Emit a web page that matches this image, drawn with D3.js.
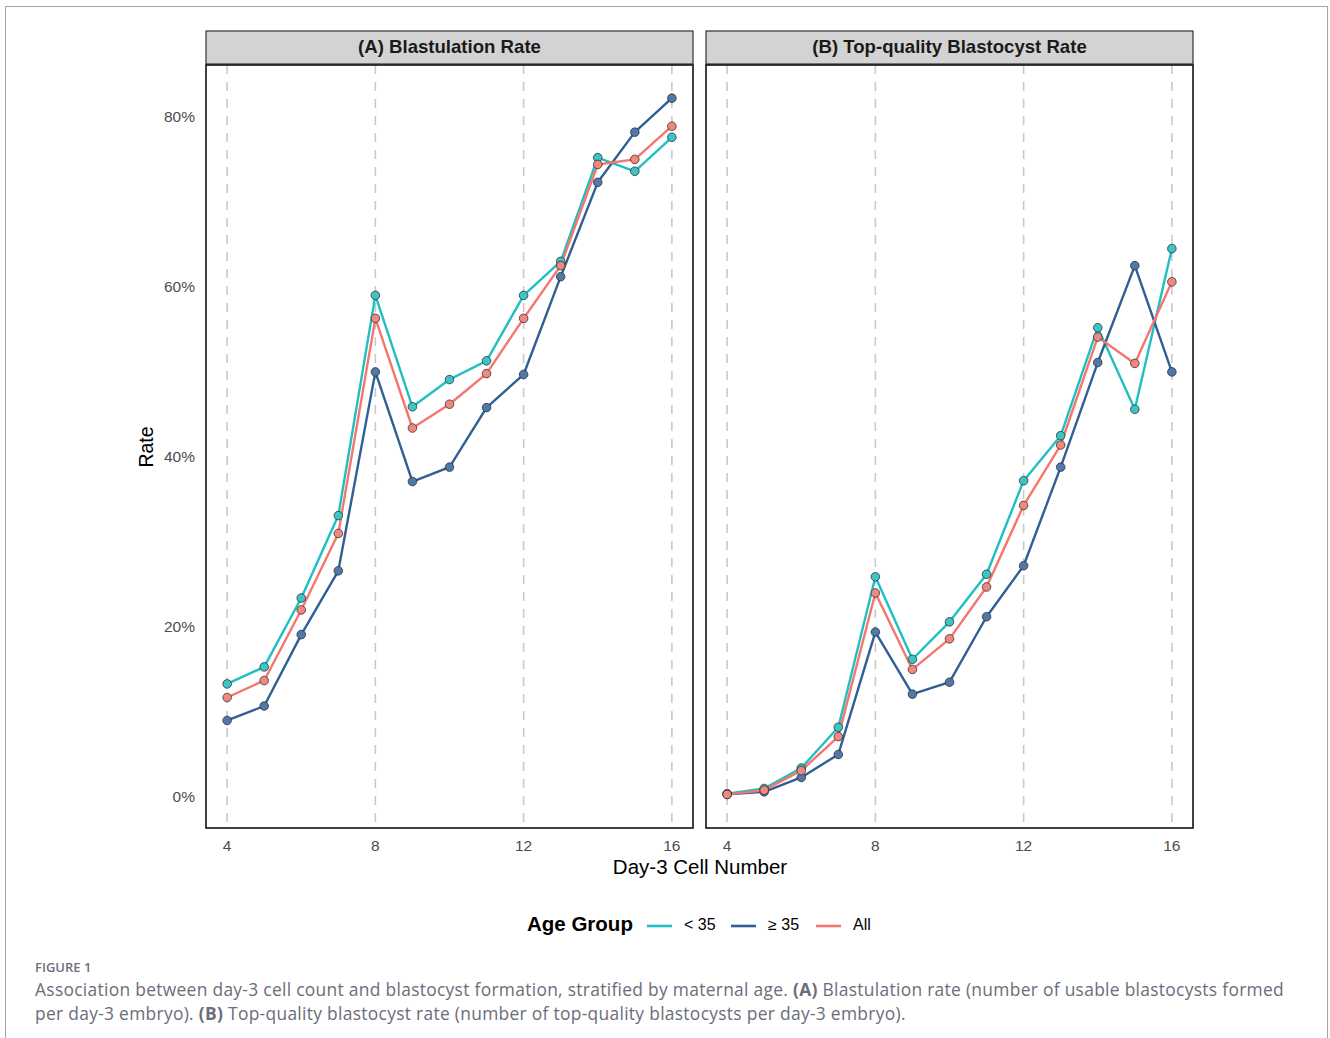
<!DOCTYPE html>
<html>
<head>
<meta charset="utf-8">
<script src="https://cdn.jsdelivr.net/npm/d3@7"></script>
<style>
  body { margin: 0; background: #fff; }
  svg { display: block; }
</style>
</head>
<body>
<script>
// Data (rates in %)

const cellNumbers = [4, 5, 6, 7, 8, 9, 10, 11, 12, 13, 14, 15, 16];
const xTicks = [4, 8, 12, 16];
const yTicks = [0, 20, 40, 60, 80];

const groupNames = ["< 35", "\u2265 35", "All"];
const panelTitles = ["(A) Blastulation Rate", "(B) Top-quality Blastocyst Rate"];

const blastUnder35 = [13.4, 15.4, 23.5, 33.2, 59.1, 46.0, 49.2, 51.4, 59.1, 63.1, 75.3, 73.7, 77.7];
const blastOver35 = [9.1, 10.8, 19.2, 26.7, 50.1, 37.2, 38.9, 45.9, 49.8, 61.3, 72.4, 78.3, 82.3];
const blastAll = [11.8, 13.8, 22.1, 31.1, 56.4, 43.5, 46.3, 49.9, 56.4, 62.6, 74.5, 75.1, 79.0];

const topUnder35 = [0.5, 1.1, 3.5, 8.3, 26.0, 16.3, 20.7, 26.3, 37.3, 42.6, 55.3, 45.7, 64.6];
const topOver35 = [0.4, 0.7, 2.4, 5.1, 19.5, 12.2, 13.6, 21.3, 27.3, 38.9, 51.2, 62.6, 50.1];
const topAll = [0.4, 0.9, 3.2, 7.2, 24.1, 15.1, 18.7, 24.8, 34.4, 41.5, 54.2, 51.1, 60.7];

const panelSeries = [
  [blastUnder35, blastOver35, blastAll],
  [topUnder35, topOver35, topAll],
];

// Measurements

const width = 1330;
const height = 1038;
const panelXs = [206, 706];
const panelWidth = 487;
const stripY = 31;
const stripHeight = 33;
const panelY = 65;
const panelBottom = 828;

const lineColors = ["#1fbfc3", "#2f5f93", "#f4766d"];
const pointFills = ["#3cc4c6", "#5079ab", "#f08880"];
const chartFont = "'Liberation Sans', Arial, sans-serif";
const captionFont = "'Open Sans', 'Noto Sans', sans-serif";

const svg = d3
  .select("body")
  .append("svg")
  .attr("width", width)
  .attr("height", height)
  .attr("viewBox", `0 0 ${width} ${height}`);

// Frame

svg
  .append("rect")
  .attr("x", 5.5)
  .attr("y", 6.5)
  .attr("width", 1322)
  .attr("height", 1040)
  .attr("fill", "none")
  .attr("stroke", "#a3a3ab")
  .attr("stroke-width", 1);

// Scales

const yScale = d3.scaleLinear().domain([-3.55, 86.2]).range([panelBottom, panelY]);

panelTitles.forEach((title, p) => {
  const x0 = panelXs[p];
  const xScale = d3
    .scaleLinear()
    .domain([3.43, 16.57])
    .range([x0, x0 + panelWidth]);

  const g = svg.append("g");

  // Strip

  g.append("rect")
    .attr("x", x0)
    .attr("y", stripY)
    .attr("width", panelWidth)
    .attr("height", stripHeight)
    .attr("fill", "#d3d3d3")
    .attr("stroke", "#333")
    .attr("stroke-width", 1.2);

  g.append("text")
    .attr("x", x0 + panelWidth / 2)
    .attr("y", stripY + stripHeight / 2 + 1)
    .attr("text-anchor", "middle")
    .attr("dominant-baseline", "middle")
    .attr("font-family", chartFont)
    .attr("font-weight", "bold")
    .attr("font-size", 18.6)
    .attr("fill", "#1a1a1a")
    .text(title);

  // Grid

  g.selectAll(".grid")
    .data(xTicks)
    .enter()
    .append("line")
    .attr("x1", (d) => xScale(d))
    .attr("x2", (d) => xScale(d))
    .attr("y1", panelY)
    .attr("y2", panelBottom)
    .attr("stroke", "#c9c9c9")
    .attr("stroke-width", 1.6)
    .attr("stroke-dasharray", "9,8");

  // Lines & points

  const line = d3
    .line()
    .x((_, i) => xScale(cellNumbers[i]))
    .y((d) => yScale(d));

  panelSeries[p].forEach((values, s) => {
    g.append("path")
      .datum(values)
      .attr("d", line)
      .attr("fill", "none")
      .attr("stroke", lineColors[s])
      .attr("stroke-width", 2.4)
      .attr("stroke-linejoin", "round");
  });

  panelSeries[p].forEach((values, s) => {
    g.selectAll(null)
      .data(values)
      .enter()
      .append("circle")
      .attr("cx", (_, i) => xScale(cellNumbers[i]))
      .attr("cy", (d) => yScale(d))
      .attr("r", 4.3)
      .attr("fill", pointFills[s])
      .attr("stroke", "#2b2b2b")
      .attr("stroke-opacity", 0.85)
      .attr("stroke-width", 0.9);
  });

  // Border

  g.append("rect")
    .attr("x", x0)
    .attr("y", panelY)
    .attr("width", panelWidth)
    .attr("height", panelBottom - panelY)
    .attr("fill", "none")
    .attr("stroke", "#111")
    .attr("stroke-width", 1.6);

  // X axis labels

  g.selectAll(".xtick")
    .data(xTicks)
    .enter()
    .append("text")
    .attr("x", (d) => xScale(d))
    .attr("y", 851)
    .attr("text-anchor", "middle")
    .attr("font-family", chartFont)
    .attr("font-size", 15.5)
    .attr("fill", "#4d4d4d")
    .text((d) => d);
});

// Y axis labels

svg
  .selectAll(".ytick")
  .data(yTicks)
  .enter()
  .append("text")
  .attr("x", 195)
  .attr("y", (d) => yScale(d))
  .attr("text-anchor", "end")
  .attr("dominant-baseline", "middle")
  .attr("font-family", chartFont)
  .attr("font-size", 15.5)
  .attr("fill", "#4d4d4d")
  .text((d) => d + "%");

// Axis titles

svg
  .append("text")
  .attr("transform", "translate(153, 447) rotate(-90)")
  .attr("text-anchor", "middle")
  .attr("font-family", chartFont)
  .attr("font-size", 19.5)
  .attr("fill", "#000")
  .text("Rate");

svg
  .append("text")
  .attr("x", 700)
  .attr("y", 874)
  .attr("text-anchor", "middle")
  .attr("font-family", chartFont)
  .attr("font-size", 20.5)
  .attr("fill", "#000")
  .text("Day-3 Cell Number");

// Legend

const legend = svg.append("g").attr("transform", "translate(527, 926)");

legend
  .append("text")
  .attr("x", 0)
  .attr("y", 0)
  .attr("dominant-baseline", "middle")
  .attr("font-family", chartFont)
  .attr("font-weight", "bold")
  .attr("font-size", 20.5)
  .attr("fill", "#000")
  .text("Age Group");

const legendXs = [120, 204, 289];

groupNames.forEach((name, i) => {
  legend
    .append("line")
    .attr("x1", legendXs[i])
    .attr("x2", legendXs[i] + 25)
    .attr("y1", 0)
    .attr("y2", 0)
    .attr("stroke", lineColors[i])
    .attr("stroke-width", 2.6);
  legend
    .append("text")
    .attr("x", legendXs[i] + 37)
    .attr("y", 0)
    .attr("dominant-baseline", "middle")
    .attr("font-family", chartFont)
    .attr("font-size", 16)
    .attr("fill", "#000")
    .text(name);
});

// Caption

svg
  .append("text")
  .attr("x", 35)
  .attr("y", 972)
  .attr("font-family", captionFont)
  .attr("font-weight", 600)
  .attr("font-size", 13)
  .attr("fill", "#6e707c")
  .text("FIGURE 1");

const captionLines = [
  [
    ["Association between day-3 cell count and blastocyst formation, stratified by maternal age. ", false],
    ["(A)", true],
    [" Blastulation rate (number of usable blastocysts formed", false],
  ],
  [
    ["per day-3 embryo). ", false],
    ["(B)", true],
    [" Top-quality blastocyst rate (number of top-quality blastocysts per day-3 embryo).", false],
  ],
];

captionLines.forEach((parts, i) => {
  const t = svg
    .append("text")
    .attr("x", 35)
    .attr("y", 996 + i * 24)
    .attr("font-family", captionFont)
    .attr("font-size", 17.4)
    .attr("letter-spacing", 0.3)
    .attr("fill", "#6b6d7a");
  parts.forEach(([str, bold]) => {
    t.append("tspan")
      .attr("font-weight", bold ? 700 : 400)
      .text(str);
  });
});
</script>
</body>
</html>
